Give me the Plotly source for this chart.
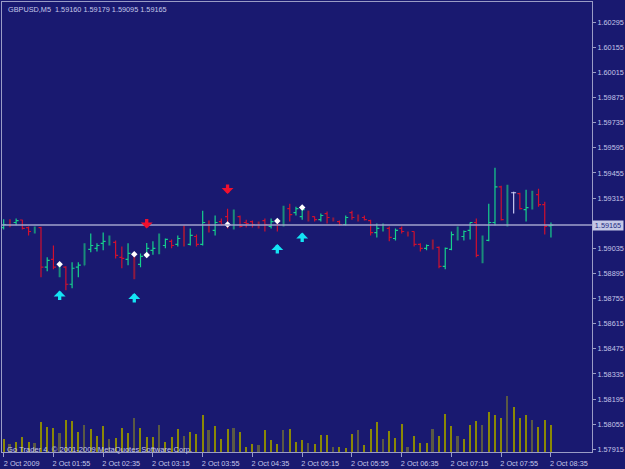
import plotly.graph_objects as go

# ---------------- data (GBPUSD, M5) ----------------
opens = [1.59151, 1.59184, 1.59179, 1.59193, 1.59151, 1.59123, 1.59151, 1.58930, 1.58974, 1.58913,
         1.58930, 1.58835, 1.58930, 1.58941, 1.59029, 1.59035, 1.59063, 1.59063, 1.59068, 1.58985,
         1.58974, 1.59002, 1.58946, 1.59002, 1.59024, 1.59035, 1.59051, 1.59074, 1.59057, 1.59135,
         1.59057, 1.59101, 1.59057, 1.59179, 1.59135, 1.59184, 1.59212, 1.59168, 1.59212, 1.59179,
         1.59184, 1.59173, 1.59190, 1.59157, 1.59190, 1.59162, 1.59256, 1.59234, 1.59212, 1.59240,
         1.59212, 1.59195, 1.59229, 1.59201, 1.59184, 1.59168, 1.59234, 1.59212, 1.59207, 1.59190,
         1.59123, 1.59135, 1.59146, 1.59090, 1.59146, 1.59123, 1.59129, 1.59057, 1.59035, 1.59079,
         1.59040, 1.58935, 1.59029, 1.59112, 1.59101, 1.59135, 1.59179, 1.58996, 1.59079, 1.59179,
         1.59378, 1.59223, 1.59345, 1.59340, 1.59251, 1.59273, 1.59334, 1.59279, 1.59160]
highs = [1.59197, 1.59197, 1.59201, 1.59195, 1.59157, 1.59157, 1.59155, 1.58985, 1.59051, 1.58941,
         1.58935, 1.58957, 1.58957, 1.59063, 1.59118, 1.59063, 1.59123, 1.59107, 1.59079, 1.59046,
         1.59063, 1.59013, 1.59007, 1.59065, 1.59074, 1.59118, 1.59090, 1.59085, 1.59107, 1.59162,
         1.59146, 1.59112, 1.59245, 1.59190, 1.59218, 1.59201, 1.59256, 1.59251, 1.59218, 1.59195,
         1.59190, 1.59184, 1.59201, 1.59201, 1.59195, 1.59273, 1.59284, 1.59267, 1.59262, 1.59245,
         1.59212, 1.59229, 1.59240, 1.59207, 1.59190, 1.59218, 1.59245, 1.59223, 1.59218, 1.59195,
         1.59173, 1.59173, 1.59157, 1.59146, 1.59157, 1.59129, 1.59129, 1.59063, 1.59057, 1.59085,
         1.59046, 1.59040, 1.59129, 1.59157, 1.59135, 1.59179, 1.59201, 1.59107, 1.59284, 1.59484,
         1.59384, 1.59389, 1.59351, 1.59345, 1.59362, 1.59356, 1.59367, 1.59295, 1.59179]
lows = [1.59140, 1.59153, 1.59164, 1.59140, 1.59107, 1.59118, 1.58874, 1.58907, 1.58918, 1.58874,
        1.58802, 1.58813, 1.58874, 1.58941, 1.59013, 1.59018, 1.59024, 1.59051, 1.58979, 1.58924,
        1.58941, 1.58863, 1.58930, 1.58985, 1.58999, 1.59002, 1.59035, 1.59035, 1.59046, 1.59046,
        1.59051, 1.59046, 1.59051, 1.59123, 1.59107, 1.59162, 1.59146, 1.59140, 1.59151, 1.59151,
        1.59151, 1.59146, 1.59129, 1.59146, 1.59129, 1.59157, 1.59184, 1.59218, 1.59195, 1.59184,
        1.59184, 1.59184, 1.59173, 1.59184, 1.59162, 1.59162, 1.59195, 1.59184, 1.59190, 1.59107,
        1.59096, 1.59129, 1.59074, 1.59079, 1.59118, 1.59101, 1.59046, 1.59018, 1.59024, 1.59029,
        1.58924, 1.58918, 1.59024, 1.59079, 1.59079, 1.59085, 1.58985, 1.58952, 1.59074, 1.59162,
        1.59190, 1.59157, 1.59229, 1.59251, 1.59184, 1.59251, 1.59267, 1.59112, 1.59095]
closes = [1.59168, 1.59162, 1.59190, 1.59146, 1.59129, 1.59151, 1.58930, 1.58968, 1.58930, 1.58935,
          1.58835, 1.58924, 1.58941, 1.59029, 1.59051, 1.59051, 1.59074, 1.59074, 1.58996, 1.58979,
          1.59007, 1.58924, 1.58990, 1.59035, 1.59035, 1.59090, 1.59085, 1.59051, 1.59090, 1.59063,
          1.59107, 1.59057, 1.59179, 1.59129, 1.59179, 1.59168, 1.59168, 1.59212, 1.59157, 1.59173,
          1.59168, 1.59162, 1.59168, 1.59184, 1.59168, 1.59234, 1.59223, 1.59256, 1.59251, 1.59201,
          1.59195, 1.59218, 1.59207, 1.59190, 1.59168, 1.59207, 1.59207, 1.59201, 1.59195, 1.59123,
          1.59146, 1.59157, 1.59096, 1.59135, 1.59129, 1.59107, 1.59057, 1.59035, 1.59051, 1.59046,
          1.58935, 1.59035, 1.59112, 1.59123, 1.59129, 1.59179, 1.58996, 1.59101, 1.59179, 1.59378,
          1.59195, 1.59340, 1.59345, 1.59256, 1.59262, 1.59340, 1.59279, 1.59157, 1.59165]
volumes = [38, 24, 30, 45, 30, 27, 90, 75, 72, 57, 96, 93, 60, 81, 69, 48, 78, 39, 42, 72,
           57, 102, 72, 45, 45, 81, 30, 45, 69, 48, 60, 54, 111, 66, 78, 39, 69, 72, 60, 15,
           24, 21, 66, 36, 24, 66, 69, 30, 36, 27, 24, 51, 51, 15, 15, 12, 54, 66, 21, 69,
           90, 39, 63, 42, 84, 15, 48, 27, 27, 69, 48, 114, 78, 48, 39, 81, 93, 81, 120, 111,
           102, 168, 135, 102, 111, 96, 75, 96, 81]

time_tick_idx = [0, 8, 16, 24, 32, 40, 48, 56, 64, 72, 80, 88]
time_tick_text = ["2 Oct 2009", "2 Oct 01:55", "2 Oct 02:35", "2 Oct 03:15", "2 Oct 03:55",
                  "2 Oct 04:35", "2 Oct 05:15", "2 Oct 05:55", "2 Oct 06:35", "2 Oct 07:15",
                  "2 Oct 07:55", "2 Oct 08:35"]
price_ticks = [1.57915, 1.58055, 1.58195, 1.58335, 1.58475, 1.58615, 1.58755, 1.58895, 1.59035,
               1.59315, 1.59455, 1.59595, 1.59735, 1.59875, 1.60015, 1.60155, 1.60295]
price_tick_text = ["%.5f" % p for p in price_ticks]

dot_idx = [9, 21, 23, 36, 44, 48]
dot_price = [1.58946, 1.59002, 1.58998, 1.59168, 1.59188, 1.59262]
up_idx = [9, 21, 44, 48]
up_price = [1.58800, 1.58786, 1.59059, 1.59123]
down_idx = [23, 36]
down_price = [1.59146, 1.59338]

bid = 1.59165
title_text = "GBPUSD,M5  1.59160 1.59179 1.59095 1.59165"
copyright_text = "Go Trader 4, \u00a9 2001-2009 MetaQuotes Software Corp."

# ---------------- style ----------------
BG = "#191970"
FG = "#c4c6e8"
FRAME = "#9a9cc6"
UP, DOWN = "#16d08c", "#d0102e"
UP_DIM, DOWN_DIM = "#1a8c7a", "#8e1a40"
FONT = "Liberation Sans, Arial, sans-serif"

n = len(opens)
idx = list(range(n))

def pick(sel, arr):
    return [arr[i] for i in sel]

doji = [i for i in idx if opens[i] == closes[i]]
dim = [i for i in idx if i % 4 == 1 and i not in doji]
norm = [i for i in idx if i % 4 != 1 and i not in doji]

fig = go.Figure()

# volumes (overlay axis, bottom of the chart)
vol_norm = [i for i in idx if i % 4 != 1]
vol_dim = [i for i in idx if i % 4 == 1]
fig.add_trace(go.Bar(x=vol_norm, y=pick(vol_norm, volumes), width=0.17,
                     marker=dict(color="#8a8806", line=dict(width=0)), yaxis="y2",
                     hoverinfo="skip"))
fig.add_trace(go.Bar(x=vol_dim, y=pick(vol_dim, volumes), width=0.3,
                     marker=dict(color="#5a5944", line=dict(width=0)), yaxis="y2",
                     hoverinfo="skip"))

fig.add_trace(go.Ohlc(x=norm, open=pick(norm, opens), high=pick(norm, highs),
                      low=pick(norm, lows), close=pick(norm, closes), tickwidth=0.4,
                      increasing=dict(line=dict(color=UP, width=1.2)),
                      decreasing=dict(line=dict(color=DOWN, width=1.2))))
fig.add_trace(go.Ohlc(x=dim, open=pick(dim, opens), high=pick(dim, highs),
                      low=pick(dim, lows), close=pick(dim, closes), tickwidth=0.1,
                      increasing=dict(line=dict(color=UP_DIM, width=2)),
                      decreasing=dict(line=dict(color=DOWN_DIM, width=2))))
fig.add_trace(go.Ohlc(x=doji, open=pick(doji, opens), high=pick(doji, highs),
                      low=pick(doji, lows), close=pick(doji, closes), tickwidth=0.4,
                      increasing=dict(line=dict(color="#c8c8f0", width=1.2)),
                      decreasing=dict(line=dict(color="#c8c8f0", width=1.2))))

fig.add_trace(go.Scatter(x=dot_idx, y=dot_price, mode="markers",
                         marker=dict(symbol="diamond", size=5, color="white"),
                         hoverinfo="skip"))

annotations = []
for xi, yi in zip(up_idx, up_price):
    annotations.append(dict(x=xi, y=yi, xref="x", yref="y", ax=0, ay=11, text="",
                            showarrow=True, arrowhead=1, arrowsize=0.6, arrowwidth=3.3,
                            arrowcolor="#14e4f4", standoff=0))
for xi, yi in zip(down_idx, down_price):
    annotations.append(dict(x=xi, y=yi, xref="x", yref="y", ax=0, ay=-11, text="",
                            showarrow=True, arrowhead=1, arrowsize=0.6, arrowwidth=3.3,
                            arrowcolor="#f0102e", standoff=0))

annotations.append(dict(x=0, y=1, xref="paper", yref="paper", xanchor="left", yanchor="top",
                        xshift=4, yshift=-1, text=title_text, showarrow=False,
                        font=dict(family=FONT, size=7.3, color=FG)))
annotations.append(dict(x=0, y=0, xref="paper", yref="paper", xanchor="left", yanchor="bottom",
                        xshift=3, yshift=-4, text=copyright_text, showarrow=False,
                        font=dict(family=FONT, size=7.6, color=FG)))
annotations.append(dict(x=1, y=bid, xref="paper", yref="y", xanchor="left", yanchor="middle",
                        xshift=0, text="%.5f" % bid, showarrow=False, bgcolor="#c4c8e6",
                        borderpad=0, width=30, align="center",
                        font=dict(family=FONT, size=7.3, color="#1f2c84")))

fig.update_layout(
    width=625, height=469,
    margin=dict(l=1, r=31, t=2, b=14),
    paper_bgcolor=BG, plot_bgcolor=BG,
    showlegend=False, bargap=0,
    xaxis=dict(range=[-0.27, 94.6], rangeslider=dict(visible=False), showgrid=False,
               zeroline=False, showline=True, linecolor=FRAME, linewidth=1, mirror=True,
               tickmode="array", tickvals=time_tick_idx, ticktext=time_tick_text,
               ticks="outside", ticklen=4, tickcolor=FRAME, ticklabelshift=18,
               ticklabelstandoff=0,
               tickfont=dict(family=FONT, size=7.3, color=FG)),
    yaxis=dict(range=[1.57900, 1.60408], side="right", showgrid=False, zeroline=False,
               showline=True, linecolor=FRAME, linewidth=1, mirror=True,
               tickmode="array", tickvals=price_ticks, ticktext=price_tick_text,
               ticks="outside", ticklen=3, tickcolor=FRAME,
               tickfont=dict(family=FONT, size=7.3, color=FG)),
    yaxis2=dict(range=[0, 1359], overlaying="y", visible=False, fixedrange=True),
    shapes=[dict(type="line", xref="paper", yref="y", x0=0, x1=1, y0=bid, y1=bid,
                 line=dict(color="#a0a2cc", width=1.5))],
    annotations=annotations,
)

fig.write_html("out.html")
